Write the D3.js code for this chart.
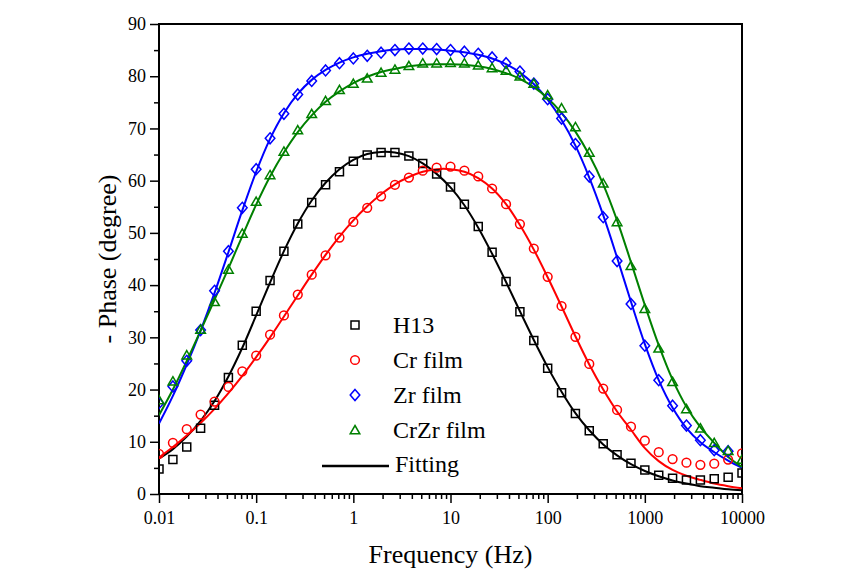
<!DOCTYPE html>
<html><head><meta charset="utf-8">
<script src="https://cdn.jsdelivr.net/npm/d3@7"></script>
<style>body{margin:0;background:#fff}svg{display:block}</style>
</head><body><svg id="c" width="850" height="576"></svg>
<script>
const freq = [0.01,0.0139,0.0193,0.0268,0.0373,0.0518,0.072,0.1,0.139,0.193,0.268,0.373,0.518,0.72,1,1.39,1.93,2.68,3.73,5.18,7.2,10,13.9,19.3,26.8,37.3,51.8,72,100,139,193,268,373,518,720,1000,1390,1930,2680,3730,5180,7200,10000];
const h13 = [4.8,6.6,9.0,12.6,17.0,22.3,28.5,35.0,40.9,46.5,51.7,55.8,59.2,61.7,63.7,64.9,65.4,65.4,64.7,63.3,61.3,58.8,55.5,51.2,46.3,40.7,34.9,29.4,24.1,19.4,15.4,12.1,9.6,7.5,5.9,4.6,3.6,3.0,2.7,2.7,2.9,3.2,4.0];
const crFilm = [7.7,9.8,12.4,15.2,17.7,20.5,23.5,26.5,30.5,34.2,38.2,42.0,45.7,49.1,52.1,54.8,57.0,59.2,60.6,61.9,62.5,62.7,61.9,60.8,58.5,55.5,51.7,47.0,41.6,36.0,30.1,24.9,20.2,16.1,12.9,10.2,8.0,6.7,6.0,5.6,5.8,6.6,7.8];
const zrFilm = [17.4,20.6,25.5,31.4,38.9,46.5,54.8,62.2,68.1,72.8,76.5,79.1,81.1,82.5,83.4,83.9,84.5,85.0,85.3,85.3,85.2,85.0,84.7,84.3,83.6,82.5,80.9,78.6,75.6,71.9,67.0,60.8,53.0,44.6,36.4,28.4,21.8,16.9,13.1,10.3,8.4,8.2,null];
const crzrFilm = [18.0,21.6,26.6,31.5,36.8,43.0,49.9,56.0,61.1,65.6,69.7,72.8,75.3,77.4,78.6,79.6,80.7,81.3,82.0,82.5,82.5,82.6,82.5,82.1,81.6,81.1,80.0,78.6,76.4,73.9,70.3,65.4,59.5,52.1,43.7,35.5,27.9,21.5,16.3,12.6,9.8,8.3,6.6];
// fitted curves
const h13Fit = [6.8,8.6,11.0,14.0,17.8,22.5,28.0,34.2,40.5,46.5,51.8,56.2,59.6,62.2,64.0,65.1,65.5,65.4,64.7,63.3,61.3,58.7,55.3,51.0,46.0,40.6,35.0,29.5,24.3,19.6,15.5,12.2,9.5,7.4,5.7,4.4,3.4,2.6,2.0,1.5,1.2,0.9,0.7];
const crFit = [7.0,9.0,11.2,13.6,16.3,19.3,22.6,26.2,30.0,34.0,38.0,42.0,45.8,49.3,52.4,55.1,57.4,59.3,60.7,61.7,62.2,62.2,61.7,60.5,58.5,55.5,51.5,46.8,41.5,35.9,30.2,24.8,20.0,15.8,12.3,8.8,6.3,4.6,3.5,2.7,2.0,1.5,1.1];
const zrFit = [13.5,18.8,24.8,31.3,38.5,46.3,54.3,61.7,68.0,72.9,76.6,79.3,81.2,82.6,83.6,84.3,84.8,85.1,85.2,85.2,85.1,84.9,84.6,84.1,83.4,82.3,80.7,78.5,75.5,71.6,66.7,60.6,53.4,45.3,36.8,28.7,21.8,16.5,12.6,9.9,8.0,6.4,5.0];
const crzrFit = [15.1,20.0,25.5,31.3,37.2,43.2,49.4,55.4,60.8,65.4,69.3,72.5,75.1,77.1,78.7,79.9,80.8,81.4,81.9,82.2,82.3,82.3,82.2,81.9,81.4,80.6,79.5,77.9,75.8,73.0,69.4,64.9,59.3,52.4,44.4,36.2,28.5,21.9,16.7,12.8,9.8,7.1,5.2];
const seriesNames = ["H13","Cr film","Zr film","CrZr film"];
const colors = ["#000000","#ff0000","#0000ff","#008000"];
const markers = ["square","circle","diamond","triangle"];
const xTicks = [0.01,0.1,1,10,100,1000,10000];
const xTickLabels = ["0.01","0.1","1","10","100","1000","10000"];
const yTicks = [0,10,20,30,40,50,60,70,80,90];

const FONT = "'Liberation Serif', 'Times New Roman', Tinos, 'DejaVu Serif', serif";
const svg = d3.select("#c").style("font-family", FONT);
const L=159,R=742,T=24,B=494;
const x = d3.scaleLog().domain([0.01,10000]).range([L,R]);
const y = d3.scaleLinear().domain([0,90]).range([B,T]);

svg.append("clipPath").attr("id","clip").append("rect").attr("x",L).attr("y",T).attr("width",R-L).attr("height",B-T);

// axes
const xAxis = d3.axisBottom(x).tickValues(xTicks).tickFormat((d,i)=>xTickLabels[i]).tickSize(9).tickPadding(8);
const gx = svg.append("g").attr("transform",`translate(0,${B})`).call(xAxis);
const minors=[];
for(let e=-2;e<4;e++) for(let m=2;m<10;m++) minors.push(m*Math.pow(10,e));
const gxm = svg.append("g").attr("transform",`translate(0,${B})`).call(d3.axisBottom(x).tickValues(minors).tickSize(5).tickFormat(""));
const yAxis = d3.axisLeft(y).tickValues(yTicks).tickSize(9).tickPadding(4);
const gy = svg.append("g").attr("transform",`translate(${L},0)`).call(yAxis);
const gym = svg.append("g").attr("transform",`translate(${L},0)`).call(d3.axisLeft(y).tickValues(d3.range(5,90,10)).tickSize(5).tickFormat(""));
[gx,gxm,gy,gym].forEach(g=>{g.attr("font-family",FONT).attr("font-size",18);g.select(".domain").remove();g.selectAll("line").attr("stroke","#000").attr("stroke-width",1.5);});
gx.selectAll("text").attr("fill","#000");
gy.selectAll("text").attr("fill","#000");

svg.append("rect").attr("x",L).attr("y",T).attr("width",R-L).attr("height",B-T).attr("fill","none").attr("stroke","#000").attr("stroke-width",2);

svg.append("text").attr("x",(L+R)/2).attr("y",563).attr("text-anchor","middle").attr("font-family",FONT).attr("font-size",26).text("Frequency (Hz)");
svg.append("text").attr("transform","translate(116,259) rotate(-90)").attr("text-anchor","middle").attr("font-family",FONT).attr("font-size",26).text("- Phase (degree)");

function markerPath(type){
  if(type==="square") return "M-4,-4H4V4H-4Z";
  if(type==="circle") return d3.symbol(d3.symbolCircle,60)();
  if(type==="diamond") return "M0,-5.5L4.8,0L0,5.5L-4.8,0Z";
  return "M0,-4.5L4.8,3.8L-4.8,3.8Z";
}

const plot = svg.append("g").attr("clip-path","url(#clip)");
const dataSets=[h13,crFilm,zrFilm,crzrFilm];
const fitSets=[h13Fit,crFit,zrFit,crzrFit];
const line = d3.line().x(d=>x(d[0])).y(d=>y(d[1])).curve(d3.curveCatmullRom.alpha(0.5));
fitSets.forEach((fs,i)=>{
  plot.append("path").datum(freq.map((f,j)=>[f,fs[j]])).attr("d",line).attr("fill","none").attr("stroke",colors[i]).attr("stroke-width",2);
});
dataSets.forEach((ds,i)=>{
  plot.append("g").selectAll("path").data(freq.map((f,j)=>[f,ds[j]]).filter(d=>d[1]!=null)).join("path")
    .attr("transform",d=>`translate(${x(d[0])},${y(d[1])})`).attr("d",markerPath(markers[i]))
    .attr("fill","none").attr("stroke",colors[i]).attr("stroke-width",1.5);
});

// legend
const lg = svg.append("g");
const rowsY=[325,360,395,430];
seriesNames.forEach((n,i)=>{
  lg.append("path").attr("transform",`translate(355,${rowsY[i]})`).attr("d",markerPath(markers[i])).attr("fill","none").attr("stroke",colors[i]).attr("stroke-width",1.5);
  lg.append("text").attr("x",393).attr("y",rowsY[i]).attr("dy","0.33em").attr("font-family",FONT).attr("font-size",24).text(n);
});
lg.append("line").attr("x1",322).attr("x2",389).attr("y1",466).attr("y2",466).attr("stroke","#000").attr("stroke-width",2.5);
lg.append("text").attr("x",395).attr("y",464).attr("dy","0.33em").attr("font-family",FONT).attr("font-size",24).text("Fitting");
</script></body></html>
